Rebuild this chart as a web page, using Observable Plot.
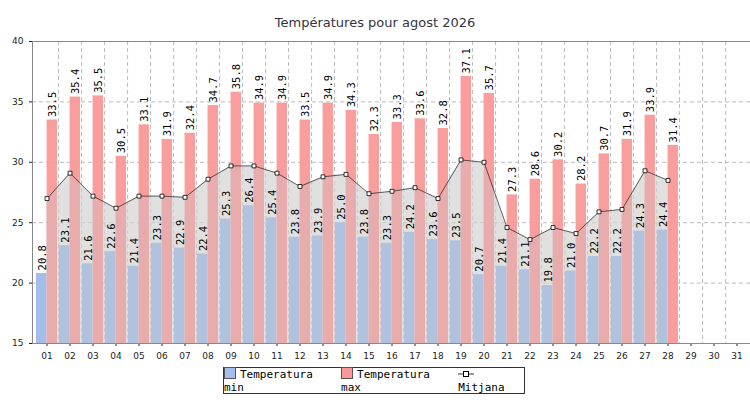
<!DOCTYPE html>
<html><head><meta charset="utf-8">
<script src="https://cdn.jsdelivr.net/npm/d3@7"></script>
<script src="https://cdn.jsdelivr.net/npm/@observablehq/plot@0.6"></script>
<style>
body{margin:0;background:#fff;font-family:"DejaVu Sans",sans-serif;}
#wrap{position:relative;width:750px;height:400px;}
#title{position:absolute;top:15px;left:0;width:750px;text-align:center;font-size:13px;color:#334;}
#chart{position:absolute;top:0;left:0;}
#legend{position:absolute;top:367px;left:223px;width:302px;height:27px;border:1px solid #333;box-sizing:border-box;font-family:"DejaVu Sans Mono",monospace;font-size:11px;display:flex;align-items:center;justify-content:center;gap:7px;}
.sw{display:inline-block;width:10px;height:10px;border:1px solid #555;margin-right:4px;vertical-align:-1px;}
</style></head><body>
<div id="wrap">
<div id="chart"></div>
<div id="title">Températures pour agost 2026</div>
<div id="legend">
<span><span class="sw" style="background:#a4bdea"></span>Temperatura min</span>
<span><span class="sw" style="background:#fa9898"></span>Temperatura max</span>
<span><svg width="16" height="8" style="vertical-align:0"><line x1="0" y1="4" x2="16" y2="4" stroke="#000" stroke-width="0.8"/><rect x="5.5" y="1.5" width="5" height="5" fill="#fff" stroke="#000"/></svg> Mitjana</span>
</div>
</div>
<script>
const days = d3.range(1,32).map(d=>String(d).padStart(2,"0"));
const tmin = [20.8,23.1,21.6,22.6,21.4,23.3,22.9,22.4,25.3,26.4,25.4,23.8,23.9,25.0,23.8,23.3,24.2,23.6,23.5,20.7,21.4,21.1,19.8,21.0,22.2,22.2,24.3,24.4];
const tmax = [33.5,35.4,35.5,30.5,33.1,31.9,32.4,34.7,35.8,34.9,34.9,33.5,34.9,34.3,32.3,33.3,33.6,32.8,37.1,35.7,27.3,28.6,30.2,28.2,30.7,31.9,33.9,31.4];
const tmean = [27.0,29.1,27.2,26.2,27.2,27.2,27.1,28.6,29.7,29.7,29.1,28.0,28.8,29.0,27.4,27.6,27.9,27.0,30.2,30.0,24.6,23.6,24.6,24.1,25.9,26.1,29.3,28.5];
const yTicks = [15,20,25,30,35,40];

const rows = tmin.map((v,i)=>({day:days[i],min:v,max:tmax[i],mean:tmean[i]}));
const W=750, mL=32, mR=0, bw=(W-mL-mR)/31, half=bw/2;
const mono = "DejaVu Sans Mono, monospace";

const plot = Plot.plot({
  width:W, height:360, marginLeft:mL, marginRight:mR, marginTop:41, marginBottom:17,
  style:{fontFamily:"DejaVu Sans, sans-serif", fontSize:"9px", color:"#222", background:"transparent"},
  x:{type:"band", domain:days, padding:0, label:null, tickSize:3},
  y:{domain:[15,40], ticks:yTicks, label:null, tickSize:3},
  marks:[
    Plot.ruleY(yTicks.slice(1,-1),{stroke:"#bbb",strokeDasharray:"4,3"}),
    Plot.ruleX(days.slice(0,-1),{x:d=>d,dx:half,stroke:"#bbb",strokeDasharray:"4,3"}),
    Plot.areaY(rows,{x:"day",y1:15,y2:"mean",fill:"#d8d8d8",fillOpacity:0.5}),
    Plot.barY(rows,{x:"day",y1:15,y2:"min",fill:"#a4bdea",insetLeft:1,insetRight:half}),
    Plot.barY(rows,{x:"day",y1:15,y2:"max",fill:"#fa9898",fillOpacity:0.95,insetLeft:half,insetRight:1}),
    Plot.areaY(rows,{x:"day",y1:15,y2:"mean",fill:"#cccccc",fillOpacity:0.35}),
    Plot.lineY(rows,{x:"day",y:"mean",stroke:"#000",strokeWidth:0.6}),
    Plot.dot(rows,{x:"day",y:"mean",symbol:"square",r:2.2,fill:"#fff",stroke:"#000",strokeWidth:0.8}),
    Plot.text(rows,{x:"day",y:"min",text:d=>d.min.toFixed(1),rotate:-90,textAnchor:"start",dx:-half/2+1,dy:-3,fontFamily:mono,fontSize:10.5,fill:"#000"}),
    Plot.text(rows,{x:"day",y:"max",text:d=>d.max.toFixed(1),rotate:-90,textAnchor:"start",dx:half/2,dy:-3,fontFamily:mono,fontSize:10.5,fill:"#000"}),
    Plot.frame({stroke:"#888"})
  ]
});
document.getElementById("chart").appendChild(plot);
</script>
</body></html>
